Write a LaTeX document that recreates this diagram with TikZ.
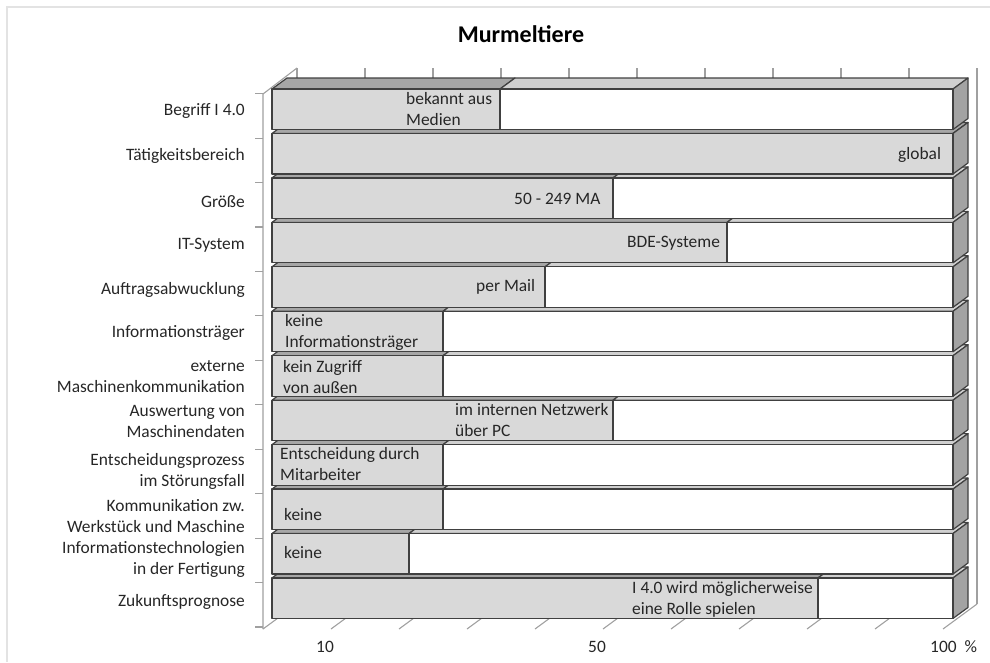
\documentclass[tikz,border=0pt]{standalone}
\usepackage{fontspec}
\setmainfont{Carlito}
\usepackage{tikz}
\usetikzlibrary{calc}
\definecolor{barface}{HTML}{D9D9D9}
\definecolor{bartop}{HTML}{A6A6A6}
\definecolor{bartoplight}{HTML}{D0D0D0}
\definecolor{barside}{HTML}{A3A3A3}
\definecolor{barline}{HTML}{404040}
\definecolor{gridgray}{HTML}{A0A0A0}
\definecolor{framegray}{HTML}{E3E3E3}
\tikzstyle{catlabel} = [anchor=east, align=right, inner sep=0pt, color=black!85]
\tikzstyle{vallabel} = [anchor=west, align=left, inner sep=0pt, color=black!85]
\tikzstyle{barpart} = [draw=barline, line width=1.2pt, line join=round]
\tikzstyle{gridline} = [draw=gridgray, line width=1.1pt]
\tikzset{font={\fontsize{17.4}{21}\selectfont}}

\begin{document}
\begin{tikzpicture}[x=1pt, y=-1pt]
  \useasboundingbox (0,0) rectangle (990,662);
  \draw[framegray, line width=2pt] (7,662) -- (7,7) -- (990,7);

  \node[at={(521,34)}, inner sep=0pt, font={\fontsize{24}{29}\selectfont\bfseries}] (title) {Murmeltiere};

  % walls and floor
  \foreach \g in {0,...,10} {
    \draw[gridline] (297+68*\g,68) -- (297+68*\g,604);
    \draw[gridline] (263+68*\g,629) -- (297+68*\g,604);
  }
  \draw[gridline] (263,629) -- (263,94) -- (297,68);
  \foreach \j in {0,...,12}
    \draw[gridline] (255,93.6+44.45*\j) -- (263,93.6+44.45*\j);

  % bars, from the bottom up
  \foreach \k/\v in {11/818, 10/409, 9/443, 8/443, 7/613, 6/443, 5/443, 4/545, 3/727, 2/613, 1/953, 0/500} {
    \pgfmathsetmacro{\t}{89+44.45*\k}
    \pgfmathsetmacro{\b}{\t+40.5}
    \filldraw[barpart, fill=bartop] (272,\t) -- (287,\t-11) -- (\v+15,\t-11) -- (\v,\t) -- cycle;
    \filldraw[barpart, fill=bartoplight] (\v,\t) -- (\v+15,\t-11) -- (968,\t-11) -- (953,\t) -- cycle;
    \filldraw[barpart, fill=barside] (953,\t) -- (968,\t-11) -- (968,\b-11) -- (953,\b) -- cycle;
    \filldraw[barpart, fill=barface] (272,\t) rectangle (\v,\b);
    \filldraw[barpart, fill=white] (\v,\t) rectangle (953,\b);
  }

  \node[at={(245,111)}, catlabel] (begriff) {Begriff I 4.0};
  \node[at={(245,156)}, catlabel] (taetigkeit) {Tätigkeitsbereich};
  \node[at={(245,202)}, catlabel] (groesse) {Größe};
  \node[at={(245,245)}, catlabel] (itsystem) {IT-System};
  \node[at={(245,290)}, catlabel] (auftrag) {Auftragsabwucklung};
  \node[at={(245,333)}, catlabel] (infotraeger) {Informationsträger};
  \node[at={(245,377)}, catlabel] (extern) {externe\\Maschinenkommunikation};
  \node[at={(245,421)}, catlabel] (auswertung) {Auswertung von\\Maschinendaten};
  \node[at={(245,471)}, catlabel] (entscheidung) {Entscheidungsprozess\\im Störungsfall};
  \node[at={(245,516)}, catlabel] (kommunikation) {Kommunikation zw.\\Werkstück und Maschine};
  \node[at={(245,559)}, catlabel] (infotech) {Informationstechnologien\\in der Fertigung};
  \node[at={(245,602)}, catlabel] (zukunft) {Zukunftsprognose};

  \node[at={(406,109)}, vallabel] (val1) {bekannt aus\\Medien};
  \node[at={(898,155)}, vallabel] (val2) {global};
  \node[at={(514,199)}, vallabel] (val3) {50 - 249 MA};
  \node[at={(627,243)}, vallabel] (val4) {BDE-Systeme};
  \node[at={(476,287)}, vallabel] (val5) {per Mail};
  \node[at={(285,332)}, vallabel] (val6) {keine\\Informationsträger};
  \node[at={(283,377)}, vallabel] (val7) {kein Zugriff\\von außen};
  \node[at={(455,420)}, vallabel] (val8) {im internen Netzwerk\\über PC};
  \node[at={(280,464)}, vallabel] (val9) {Entscheidung durch\\Mitarbeiter};
  \node[at={(284,515)}, vallabel] (val10) {keine};
  \node[at={(284,553)}, vallabel] (val11) {keine};
  \node[at={(632,599)}, vallabel] (val12) {I 4.0 wird möglicherweise\\eine Rolle spielen};

  \node[at={(325,647)}, inner sep=0pt, color=black!85] (ax10) {10};
  \node[at={(597,647)}, inner sep=0pt, color=black!85] (ax50) {50};
  \node[at={(930,647)}, anchor=west, inner sep=0pt, color=black!85] (ax100) {100\ \ \%};

\end{tikzpicture}
\end{document}
